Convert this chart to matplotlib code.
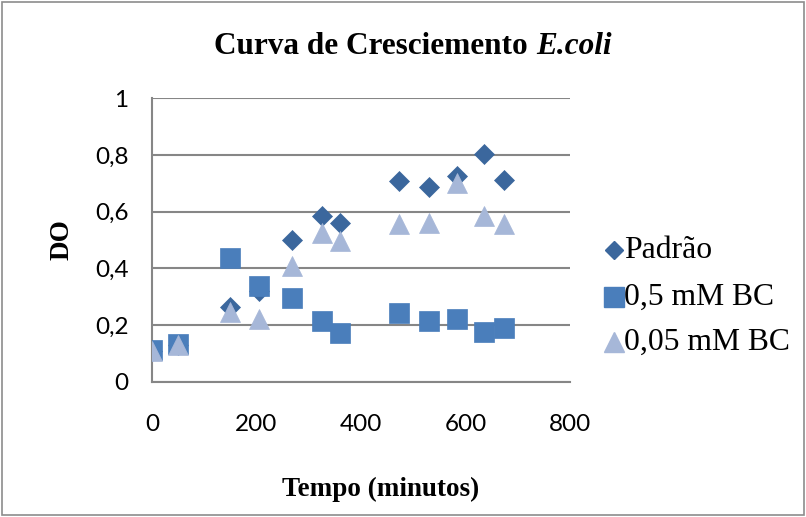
import matplotlib
matplotlib.use("Agg")
import matplotlib.pyplot as plt
from matplotlib.ticker import FuncFormatter
from matplotlib.patches import Rectangle
from matplotlib.lines import Line2D

# Data
tempo = [0, 50, 150, 205, 268, 325, 360, 473, 531, 583, 635, 673]
padrao = [0.11, 0.13, 0.265, 0.32, 0.50, 0.586, 0.559, 0.709, 0.686, 0.727, 0.804, 0.713]
bc_05 = [0.112, 0.133, 0.435, 0.338, 0.294, 0.215, 0.171, 0.241, 0.214, 0.220, 0.174, 0.188]
bc_005 = [0.11, 0.13, 0.247, 0.221, 0.41, 0.524, 0.497, 0.557, 0.561, 0.702, 0.585, 0.556]
series_names = ["Padrão", "0,5 mM BC", "0,05 mM BC"]
y_ticks = [0, 0.2, 0.4, 0.6, 0.8, 1.0]
x_ticks = [0, 200, 400, 600, 800]

W, H = 806, 517
fig = plt.figure(figsize=(W / 100, H / 100), dpi=100)
fig.patch.set_facecolor("white")
fig.add_artist(Rectangle((0.003, 0.003), 0.994, 0.993, transform=fig.transFigure,
                         fill=False, edgecolor="#8c8c8c", linewidth=1.2))

ax = fig.add_axes([152 / W, 1 - 381.7 / H, 418 / W, 283.4 / H])
grid_c = "#868686"

c1, c2, c3 = "#3B679D", "#4A7EBB", "#A6B7D8"
ax.plot(tempo, padrao, linestyle="none", marker="D", ms=10.3, color=c1, mec=c1, mew=0.5, zorder=3)
ax.plot(tempo, bc_05, linestyle="none", marker="s", ms=14, color=c2, mec=c2, mew=0.5, zorder=4)
ax.plot(tempo, bc_005, linestyle="none", marker="^", ms=14, color=c3, mec=c3, mew=0.5, zorder=5)

ax.set_xlim(0, 800)
ax.set_ylim(0, 1)
ax.set_xticks(x_ticks)
ax.set_yticks(y_ticks)
ax.yaxis.set_major_formatter(FuncFormatter(lambda v, p: ("%g" % v).replace(".", ",")))
ax.xaxis.set_major_formatter(FuncFormatter(lambda v, p: "%d" % v))
for s in ["top", "right"]:
    ax.spines[s].set_visible(False)
for s in ["left", "bottom"]:
    ax.spines[s].set_color(grid_c)
    ax.spines[s].set_linewidth(1.5)
ax.grid(axis="y", color=grid_c, linewidth=1.5)
ax.set_axisbelow(True)
ax.tick_params(length=0)
ax.tick_params(axis="y", pad=17)
ax.tick_params(axis="x", pad=23)
for lab in ax.get_xticklabels() + ax.get_yticklabels():
    lab.set_fontfamily("Lato")
    lab.set_fontsize(17.5)
ax.set_facecolor("none")

serif = "Liberation Serif"
# Title with italic part
t1 = fig.text(0.5, 1 - 47 / H, "Curva de Cresciemento ", fontfamily=serif, fontweight="bold",
              fontsize=22.5, ha="left", va="center")
t2 = fig.text(0.5, 1 - 47 / H, "E.coli", fontfamily=serif, fontweight="bold", fontstyle="italic",
              fontsize=22.5, ha="left", va="center")
fig.canvas.draw()
r = fig.canvas.get_renderer()
w1 = t1.get_window_extent(r).width
w2 = t2.get_window_extent(r).width
x0 = 413 - (w1 + w2) / 2
t1.set_x(x0 / W)
t2.set_x((x0 + w1) / W)

fig.text(62 / W, 1 - 240 / H, "DO", fontfamily=serif, fontweight="bold", fontsize=19.5,
         rotation=90, ha="center", va="center")
fig.text(381 / W, 1 - 489 / H, "Tempo (minutos)", fontfamily=serif, fontweight="bold", fontsize=19.5,
         ha="center", va="center")

# Legend
leg_y = [250, 297, 342]
markers = [("D", 9.5, c1), ("s", 14, c2), ("^", 14, c3)]
for (m, ms, c), name, yy in zip(markers, series_names, leg_y):
    fig.lines.append(Line2D([614 / W], [1 - yy / H], marker=m, ms=ms, color=c,
                            mec=c, linestyle="none", transform=fig.transFigure))
    fig.text(624 / W, 1 - yy / H, name, fontfamily=serif, fontsize=22.8, ha="left", va="center")

fig.savefig("out.png", dpi=100)
